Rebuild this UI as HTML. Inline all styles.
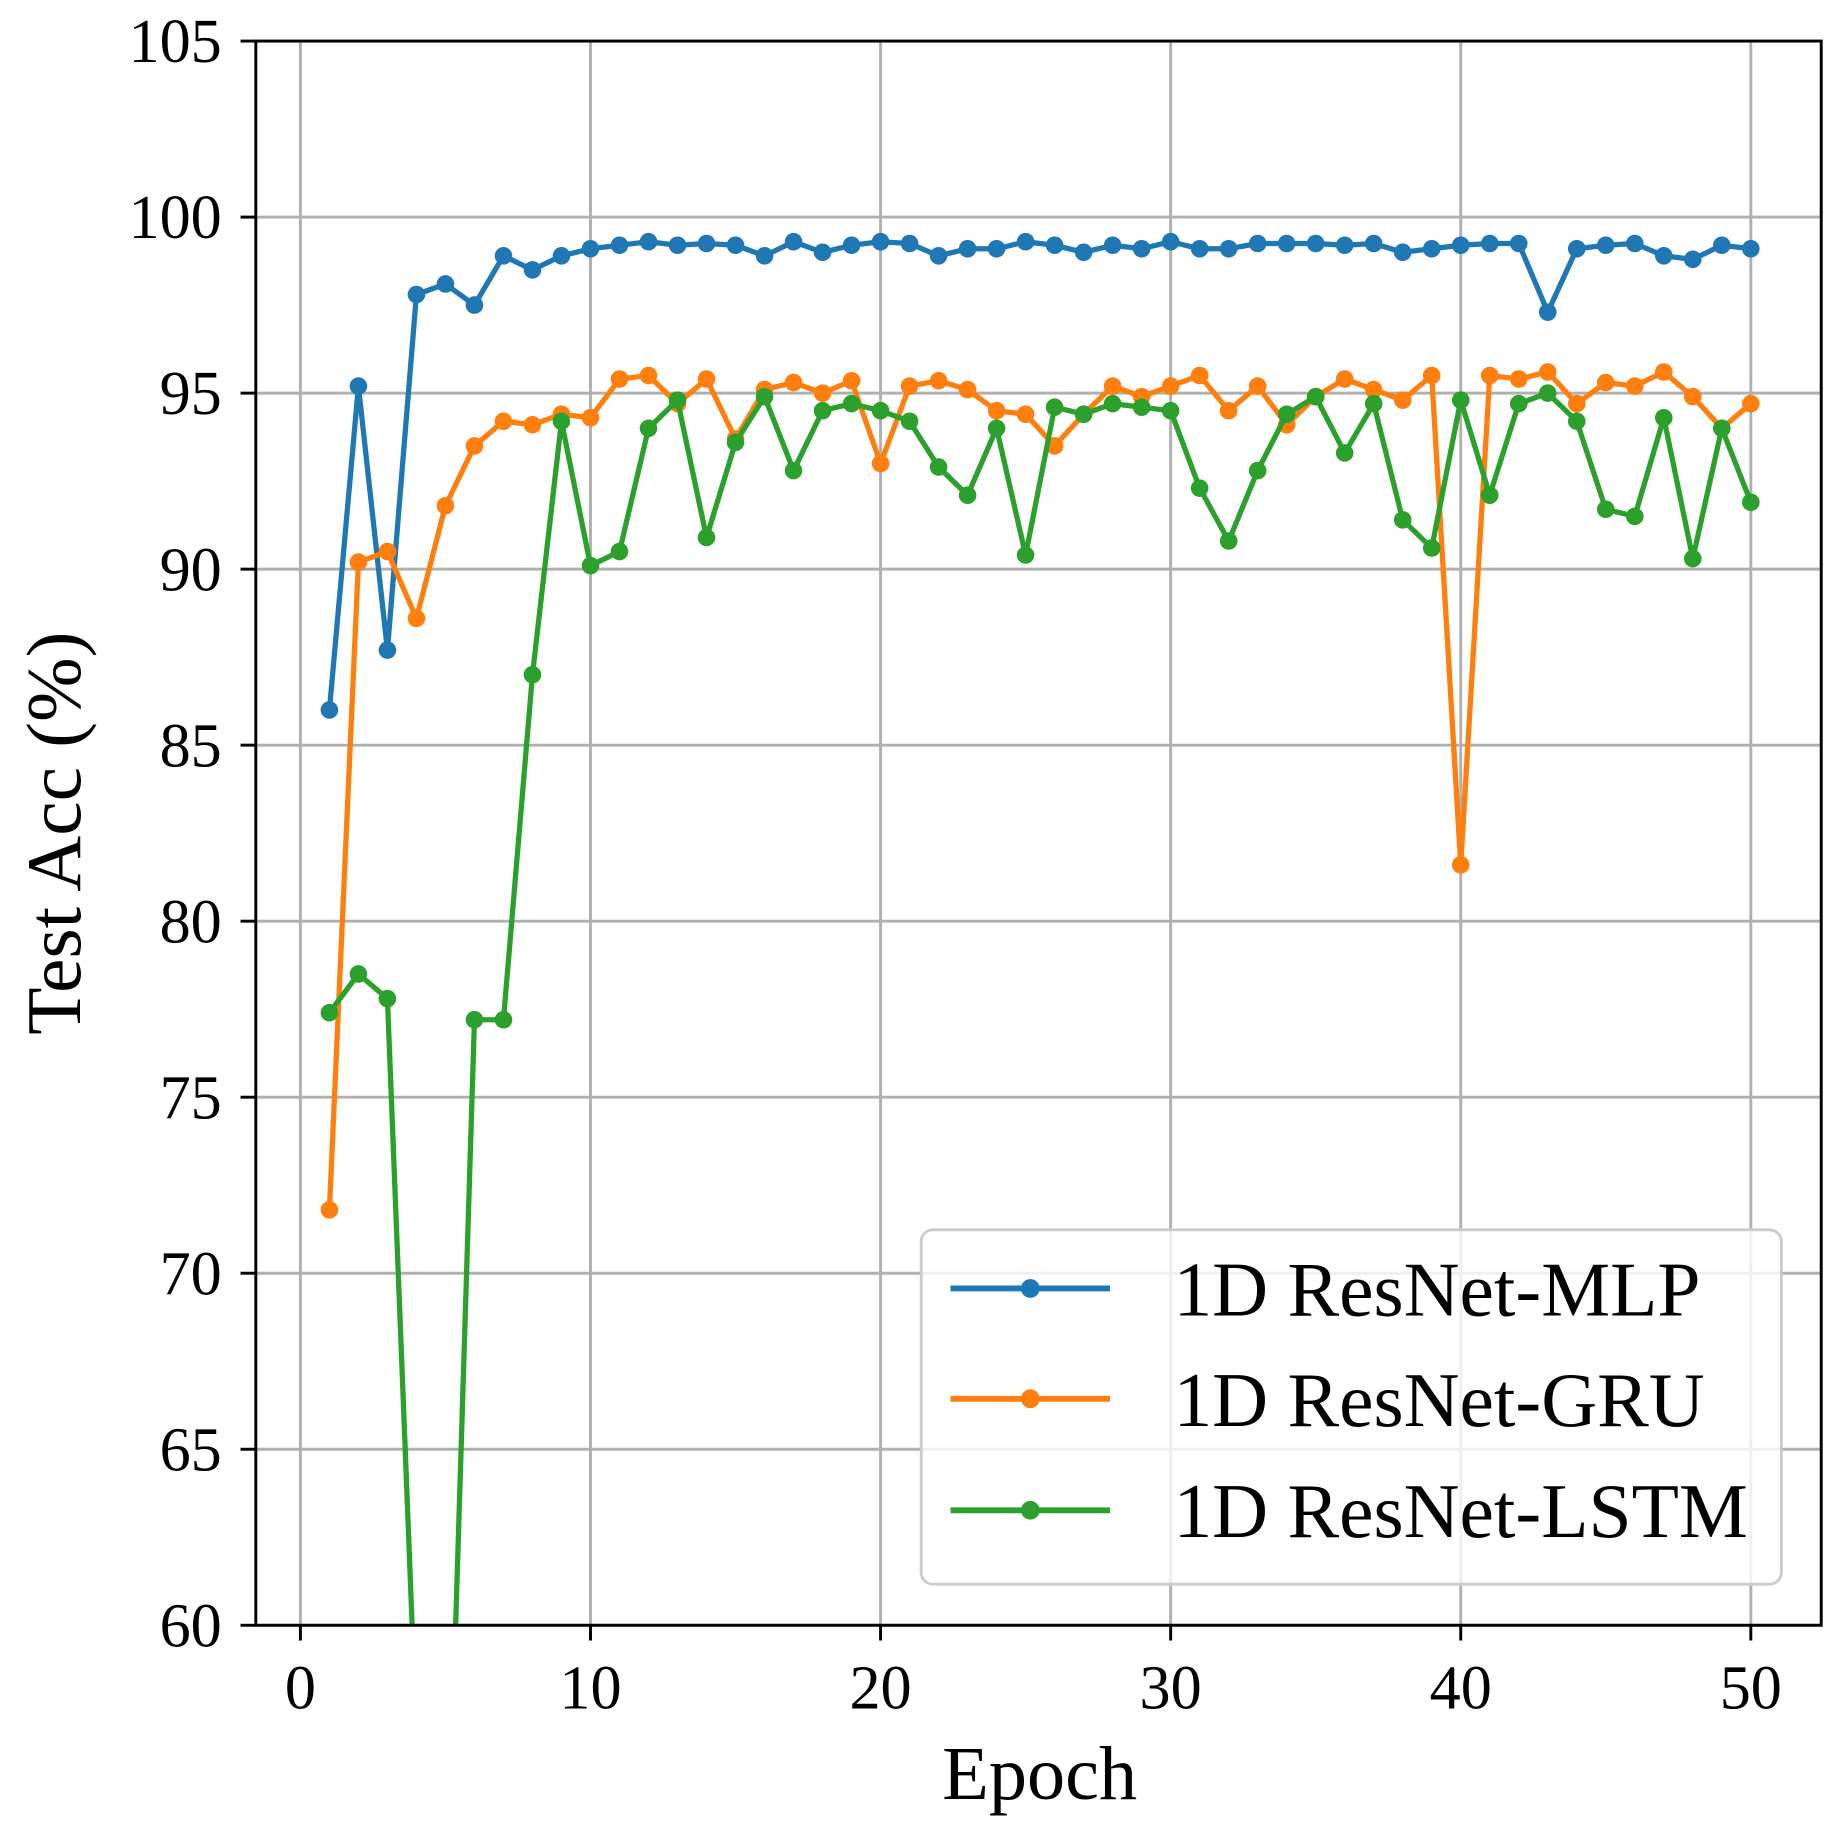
<!DOCTYPE html>
<html><head><meta charset="utf-8"><style>html,body{margin:0;padding:0;background:#fff;overflow:hidden;width:1840px;height:1844px}svg{display:block}</style></head>
<body>
<svg id="c" width="1840" height="1844" viewBox="0 0 1568 1571.4" preserveAspectRatio="none" xmlns="http://www.w3.org/2000/svg" font-family="'Liberation Serif', serif">
<rect width="1568" height="1572" fill="#fff"/>
<defs><clipPath id="cp"><rect x="218" y="35" width="1334" height="1350"/></clipPath></defs>
<g id="grid" stroke="#b0b0b0" stroke-width="2.5"></g>
<g id="series" clip-path="url(#cp)"></g>
<rect x="218" y="35" width="1334" height="1350" fill="none" stroke="#000" stroke-width="2.5"/>
<g id="ticks" stroke="#000" stroke-width="2.5"></g>
<g id="labels" font-size="53" fill="#000"></g>
<text x="886" y="1533" font-size="65" text-anchor="middle">Epoch</text>
<text transform="translate(68,710) rotate(-90)" font-size="66" text-anchor="middle">Test Acc (%)</text>
<g>
<rect x="785" y="1048" width="733" height="302" rx="10" fill="#fff" fill-opacity="0.8" stroke="#cccccc" stroke-width="2.5"/>
<line x1="810" y1="1098" x2="946" y2="1098" stroke="#1f77b4" stroke-width="5"/><circle cx="878" cy="1098" r="8" fill="#1f77b4"/>
<line x1="810" y1="1192" x2="946" y2="1192" stroke="#ff7f0e" stroke-width="5"/><circle cx="878" cy="1192" r="8" fill="#ff7f0e"/>
<line x1="810" y1="1287" x2="946" y2="1287" stroke="#2ca02c" stroke-width="5"/><circle cx="878" cy="1287" r="8" fill="#2ca02c"/>
<text x="1000" y="1121" font-size="66">1D ResNet-MLP</text>
<text x="1000" y="1215" font-size="66">1D ResNet-GRU</text>
<text x="1000" y="1310" font-size="66">1D ResNet-LSTM</text>
</g>
</svg>
<script>
var NS="http://www.w3.org/2000/svg";
function X(e){return 256+e*24.72}function Y(v){return 35+(105-v)*30}
function el(p,t,a,txt){var e=document.createElementNS(NS,t);for(var k in a)e.setAttribute(k,a[k]);if(txt!=null)e.textContent=txt;document.getElementById(p).appendChild(e);return e}
for(var e=0;e<=50;e+=10){el("grid","line",{x1:X(e),x2:X(e),y1:35,y2:1385});el("ticks","line",{x1:X(e),x2:X(e),y1:1385,y2:1398});el("labels","text",{x:X(e),y:1456,"text-anchor":"middle"},e)}
for(var v=60;v<=105;v+=5){el("grid","line",{x1:218,x2:1552,y1:Y(v),y2:Y(v)});el("ticks","line",{x1:205,x2:218,y1:Y(v),y2:Y(v)});el("labels","text",{x:189,y:Y(v)+18,"text-anchor":"end"},v)}
var mlp=[86.0,95.2,87.7,97.8,98.1,97.5,98.9,98.5,98.9,99.1,99.2,99.3,99.2,99.25,99.2,98.9,99.3,99.0,99.2,99.3,99.25,98.9,99.1,99.1,99.3,99.2,99.0,99.2,99.1,99.3,99.1,99.1,99.25,99.25,99.25,99.2,99.25,99.0,99.1,99.2,99.25,99.25,97.3,99.1,99.2,99.25,98.9,98.8,99.2,99.1];
var gru=[71.8,90.2,90.5,88.6,91.8,93.5,94.2,94.1,94.4,94.3,95.4,95.5,94.7,95.4,93.7,95.1,95.3,95.0,95.35,93.0,95.2,95.35,95.1,94.5,94.4,93.5,94.4,95.2,94.9,95.2,95.5,94.5,95.2,94.1,94.9,95.4,95.1,94.8,95.5,81.6,95.5,95.4,95.6,94.7,95.3,95.2,95.6,94.9,94.0,94.7];
var lstm=[77.4,78.5,77.8,56.9,50.7,77.2,77.2,87.0,94.2,90.1,90.5,94.0,94.8,90.9,93.6,94.9,92.8,94.5,94.7,94.5,94.2,92.9,92.1,94.0,90.4,94.6,94.4,94.7,94.6,94.5,92.3,90.8,92.8,94.4,94.9,93.3,94.7,91.4,90.6,94.8,92.1,94.7,95.0,94.2,91.7,91.5,94.3,90.3,94.0,91.9];
[[mlp,"#1f77b4"],[gru,"#ff7f0e"],[lstm,"#2ca02c"]].forEach(function(s){
 var pts=s[0].map(function(v,i){return X(i+1)+","+Y(v)}).join(" ");
 el("series","polyline",{points:pts,fill:"none",stroke:s[1],"stroke-width":4.5,"stroke-linejoin":"round"});
 s[0].forEach(function(v,i){el("series","circle",{cx:X(i+1),cy:Y(v),r:7.5,fill:s[1]})});
});
</script>
</body></html>
